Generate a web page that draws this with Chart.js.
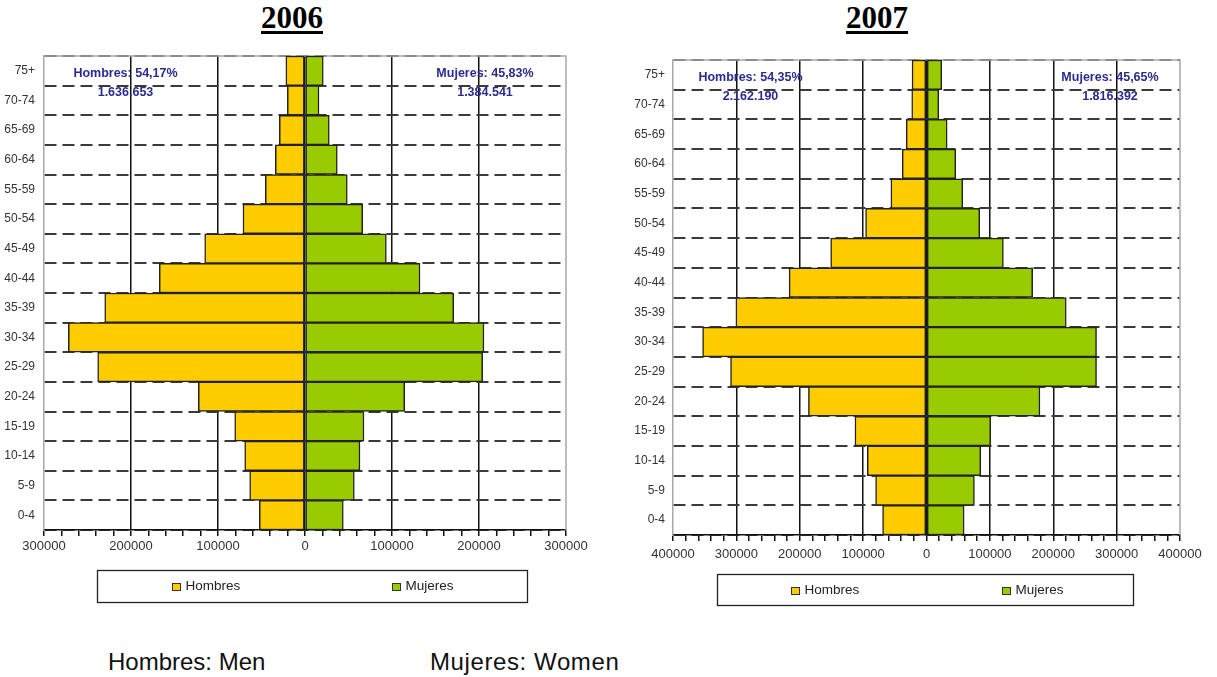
<!DOCTYPE html>
<html>
<head>
<meta charset="utf-8">
<script src="https://cdn.jsdelivr.net/npm/chart.js@4.4.1/dist/chart.umd.min.js"></script>
<style>
  body { margin: 0; background: #fff; width: 1217px; height: 677px; position: relative; overflow: hidden;
         font-family: "Liberation Sans", Arial, sans-serif; }
  .year { position: absolute; top: 0; transform: translateX(-50%);
          font-family: "Liberation Serif", "Times New Roman", serif; font-weight: bold; font-size: 31px;
          text-decoration: underline; text-decoration-thickness: 3px; text-underline-offset: 3px; color: #000; }
  canvas { position: absolute; top: 0; }
  .foot { position: absolute; top: 648px; font-size: 24px; color: #111; }
</style>
</head>
<body>
<div class="year" style="left:292px">2006</div>
<div class="year" style="left:877px">2007</div>
<canvas id="pir2006" width="605" height="612" style="left:0"></canvas>
<canvas id="pir2007" width="600" height="612" style="left:610px"></canvas>
<div class="foot" style="left:108px">Hombres: Men</div>
<div class="foot" style="left:430px; letter-spacing:0.6px">Mujeres: Women</div>
<script>
// grupos de edad, de arriba abajo
const ageGroups = ['75+', '70-74', '65-69', '60-64', '55-59', '50-54', '45-49', '40-44',
                   '35-39', '30-34', '25-29', '20-24', '15-19', '10-14', '5-9', '0-4'];

// población por sexo
const hombres2006 = [22000, 20300, 29500, 34100, 45600, 71300, 115300, 167500,
                     230200, 272000, 238300, 122600, 80800, 69300, 63600, 52500];
const mujeres2006 = [21000, 16100, 27900, 37100, 48600, 66300, 93500, 132200,
                     170900, 205700, 204200, 114600, 67800, 63200, 56700, 44000];
const hombres2007 = [22800, 23300, 32000, 38300, 56200, 96100, 151200, 216800,
                     300800, 353300, 309200, 186300, 112900, 93400, 80300, 69300];
const mujeres2007 = [24100, 19400, 32600, 46200, 57200, 84000, 121300, 167500,
                     220500, 268300, 268300, 179000, 101300, 85600, 75600, 59400];

// porcentajes y totales
const pct2006 = ['54,17%', '45,83%'];
const tot2006 = ['1.636.653', '1.384.541'];
const pct2007 = ['54,35%', '45,65%'];
const tot2007 = ['2.162.190', '1.816.392'];

const COLOR_H = '#ffcc00';
const COLOR_M = '#99cc00';
const FONT = '"Liberation Sans", Arial, sans-serif';

// marco gris, rótulos de totales y leyenda con recuadro
const pyramidDecor = {
  id: 'pyramidDecor',
  beforeDatasetsDraw(chart) {
    const { ctx, chartArea: a } = chart;
    ctx.save();
    ctx.strokeStyle = '#a8a8a8';
    ctx.lineWidth = 1.5;
    ctx.beginPath();
    ctx.moveTo(a.left, a.top);
    ctx.lineTo(a.right, a.top);
    ctx.lineTo(a.right, a.bottom);
    ctx.stroke();
    ctx.restore();
  },
  afterDatasetsDraw(chart, args, opts) {
    const { ctx, chartArea: a } = chart;
    ctx.save();
    ctx.fillStyle = '#2b2b8f';
    ctx.font = 'bold 12.5px ' + FONT;
    ctx.textAlign = 'center';
    ctx.textBaseline = 'middle';
    opts.notes[0].forEach((t, i) => ctx.fillText(t, a.left + opts.insetLeft, a.top + opts.noteTop + i * opts.noteStep));
    opts.notes[1].forEach((t, i) => ctx.fillText(t, a.right - opts.insetRight, a.top + opts.noteTop + i * opts.noteStep));
    ctx.restore();
  },
  afterDraw(chart, args, opts) {
    const { ctx } = chart;
    const b = opts.box;
    ctx.save();
    ctx.strokeStyle = '#222';
    ctx.lineWidth = 1.3;
    ctx.strokeRect(b.x + 0.5, b.y + 0.5, b.w, b.h);
    ctx.font = '13.5px ' + FONT;
    ctx.textBaseline = 'middle';
    chart.data.datasets.forEach((ds, i) => {
      const mx = Math.round(b.x + b.w * opts.itemAt[i]);
      const my = Math.round(b.y + b.h / 2);
      ctx.fillStyle = ds.backgroundColor;
      ctx.fillRect(mx, my - 3, 8, 7);
      ctx.strokeStyle = '#333';
      ctx.lineWidth = 1;
      ctx.strokeRect(mx + 0.5, my - 2.5, 8, 7);
      ctx.fillStyle = '#222';
      ctx.fillText(ds.label, mx + 13.5, my);
    });
    ctx.restore();
  }
};

function pyramid(id, hombres, mujeres, pct, tot, cfg) {
  const lim = cfg.limit;
  return new Chart(document.getElementById(id), {
    type: 'bar',
    data: {
      labels: ageGroups,
      datasets: [
        { label: 'Hombres', data: hombres.map(v => -v), backgroundColor: COLOR_H },
        { label: 'Mujeres', data: mujeres, backgroundColor: COLOR_M }
      ]
    },
    options: {
      indexAxis: 'y',
      responsive: false,
      animation: false,
      layout: { padding: cfg.padding },
      datasets: {
        bar: {
          barPercentage: 1,
          categoryPercentage: 1,
          borderColor: '#222',
          borderWidth: 1.5,
          borderSkipped: false
        }
      },
      scales: {
        x: {
          type: 'linear',
          stacked: true,
          min: -lim,
          max: lim,
          afterFit: s => { s.height = 30; },
          ticks: {
            stepSize: 20000,
            autoSkip: false,
            maxRotation: 0,
            padding: cfg.xPad,
            color: '#333',
            font: { family: FONT, size: 13 },
            callback: v => (v % 100000 === 0 ? String(Math.abs(v)) : '')
          },
          grid: {
            color: c => (c.tick && c.tick.value % 100000 === 0 && Math.abs(c.tick.value) < lim) ? '#111' : 'rgba(0,0,0,0)',
            lineWidth: 1.5,
            tickColor: '#111',
            tickLength: 6
          },
          border: { color: '#111', width: 1.5 }
        },
        y: {
          stacked: true,
          afterFit: s => { s.width = cfg.yWidth; },
          ticks: {
            padding: cfg.yPad,
            color: '#333',
            font: { family: FONT, size: 12 }
          },
          grid: { color: '#3a3a3a', lineWidth: 2, drawTicks: false, offset: true },
          border: { color: '#a8a8a8', width: 1.5, dash: [12, 6] }
        }
      },
      plugins: {
        legend: { display: false },
        tooltip: { enabled: false },
        pyramidDecor: {
          notes: [['Hombres: ' + pct[0], tot[0]], ['Mujeres: ' + pct[1], tot[1]]],
          insetLeft: cfg.insetLeft,
          insetRight: cfg.insetRight,
          noteTop: 18,
          noteStep: 18.5,
          box: cfg.box,
          itemAt: cfg.itemAt
        }
      }
    },
    plugins: [pyramidDecor]
  });
}

// 2006
pyramid('pir2006', hombres2006, mujeres2006, pct2006, tot2006, {
  limit: 300000,
  padding: { top: 56, left: 0, right: 39, bottom: 52 },
  yWidth: 44, yPad: 9, xPad: 3,
  insetLeft: 81.5, insetRight: 81,
  box: { x: 97, y: 570, w: 430, h: 32 },
  itemAt: [0.1744, 0.686]
});

// 2007
pyramid('pir2007', hombres2007, mujeres2007, pct2007, tot2007, {
  limit: 400000,
  padding: { top: 60, left: 0, right: 30, bottom: 47 },
  yWidth: 63, yPad: 8, xPad: 6,
  insetLeft: 77.5, insetRight: 70,
  box: { x: 107, y: 574, w: 416, h: 31 },
  itemAt: [0.178, 0.685]
});
</script>
</body>
</html>
